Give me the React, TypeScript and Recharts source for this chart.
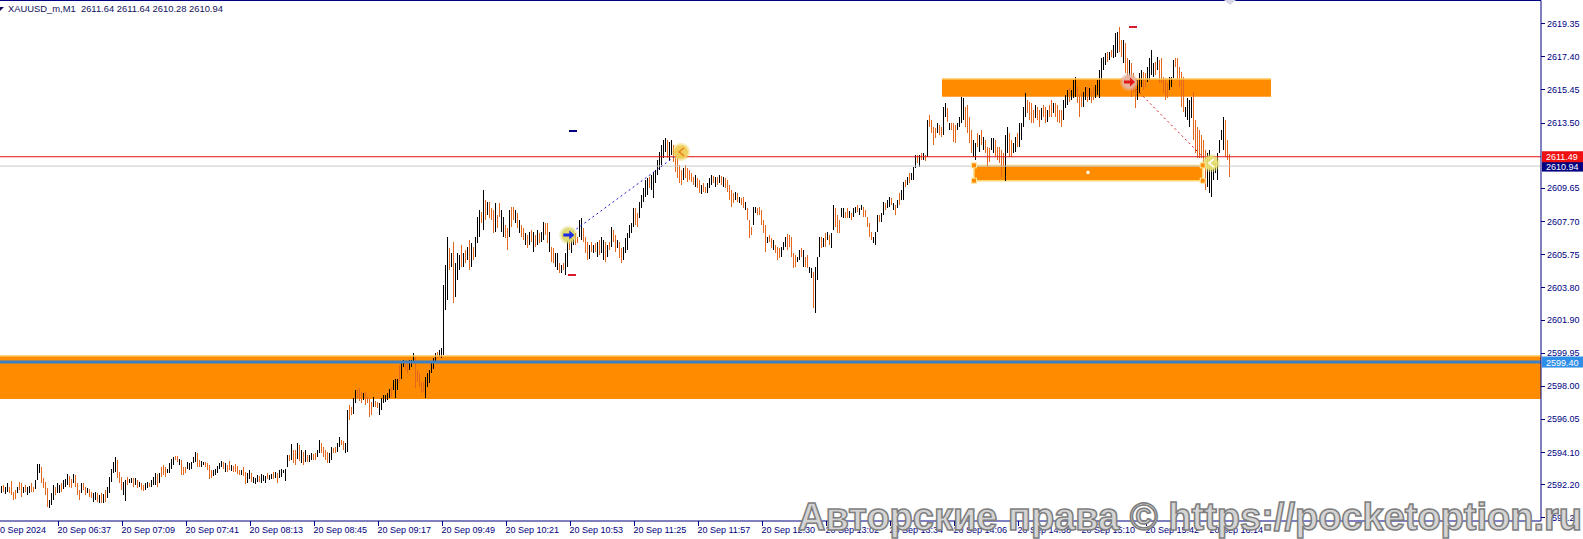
import React from 'react';
import { ComposedChart, Bar, XAxis, YAxis, ReferenceLine, ReferenceArea, ReferenceDot } from 'recharts';

// ---- bar data (XAUUSD_m, M1), one entry per minute bar ----
const highs = [
2592.09,2592.15,2592.05,2592.25,2592.05,2592.39,2591.76,2591.86,2592.05,2592.35,
2592.25,2592.05,2592.15,2592.05,2592.09,2592.29,2592.05,2592.45,2593.39,2593.39,
2593.23,2592.55,2592.35,2591.96,2591.27,2591.66,2592.15,2592.05,2592.25,2592.15,
2592.29,2592.45,2592.49,2592.78,2592.68,2592.49,2592.78,2592.74,2592.25,2591.86,
2592.25,2592.25,2592.05,2591.96,2591.90,2591.76,2591.70,2591.76,2591.66,2591.56,
2591.66,2591.62,2591.86,2592.05,2592.64,2593.13,2593.53,2593.82,2593.62,2592.94,
2592.64,2592.35,2592.45,2592.64,2592.51,2592.60,2592.55,2592.55,2592.45,2592.35,
2592.25,2592.15,2592.25,2592.35,2592.29,2592.45,2592.64,2592.84,2592.78,2592.84,
2593.23,2593.33,2593.23,2593.13,2593.43,2593.72,2593.82,2593.88,2593.86,2593.72,
2593.62,2593.23,2593.23,2593.53,2593.43,2593.53,2593.82,2594.11,2594.05,2593.62,
2593.58,2593.53,2593.53,2593.43,2593.33,2593.04,2593.04,2593.13,2593.27,2593.43,
2593.58,2593.53,2593.43,2593.33,2593.58,2593.33,2593.27,2593.39,2593.27,2593.04,
2593.04,2593.23,2592.94,2592.84,2593.07,2592.84,2592.64,2592.55,2592.74,2592.68,
2592.78,2592.74,2592.68,2592.84,2592.74,2592.80,2592.94,2592.94,2592.84,2593.04,
2593.13,2593.07,2593.13,2593.92,2593.92,2594.60,2594.25,2594.21,2594.64,2594.51,
2594.21,2594.12,2594.21,2593.92,2593.92,2594.02,2593.98,2594.06,2594.21,2594.80,
2594.61,2594.41,2594.21,2594.12,2594.02,2594.41,2594.31,2594.41,2594.61,2595.00,
2594.80,2594.76,2594.61,2596.57,2596.86,2596.77,2597.26,2597.75,2597.79,2597.85,
2597.65,2597.55,2597.65,2597.35,2597.26,2597.06,2597.35,2597.12,2597.06,2596.96,
2597.26,2597.45,2597.45,2597.55,2597.79,2597.94,2598.34,2598.43,2598.43,2599.22,
2599.42,2599.51,2599.47,2599.42,2599.51,2599.51,2599.91,2599.71,2598.92,2598.73,
2598.24,2598.24,2598.53,2598.73,2598.92,2599.32,2599.61,2599.91,2600.00,2600.10,
2600.20,2603.93,2605.11,2606.76,2606.10,2605.80,2606.49,2605.21,2605.80,2605.70,
2606.29,2605.80,2606.00,2606.19,2606.59,2606.39,2606.19,2606.78,2607.96,2608.35,
2608.26,2609.53,2608.94,2608.85,2608.85,2608.45,2608.35,2608.75,2608.06,2608.75,
2608.35,2607.96,2607.47,2607.28,2608.35,2608.55,2608.55,2608.35,2608.16,2607.77,
2607.47,2607.28,2606.98,2606.88,2607.08,2607.18,2607.08,2606.88,2607.18,2606.98,
2607.08,2607.67,2607.57,2607.57,2607.08,2606.19,2606.10,2605.80,2605.80,2605.21,
2605.12,2605.21,2605.80,2606.59,2606.49,2606.78,2606.88,2606.98,2606.78,2607.77,
2607.86,2607.28,2606.78,2606.49,2606.29,2606.49,2606.29,2606.39,2606.49,2606.59,
2606.78,2606.59,2606.49,2606.29,2606.49,2607.37,2607.18,2606.88,2606.59,2606.49,
2606.10,2606.19,2606.69,2606.98,2607.47,2607.57,2608.45,2608.45,2608.16,2608.85,
2609.24,2609.63,2610.12,2610.22,2610.32,2610.42,2610.61,2610.71,2611.30,2611.77,
2612.18,2612.47,2612.59,2612.47,2612.36,2612.47,2612.18,2611.89,2611.41,2611.00,
2610.71,2610.83,2611.00,2610.83,2610.71,2610.51,2610.32,2610.42,2610.22,2610.12,
2609.83,2609.92,2609.73,2609.92,2610.22,2610.42,2610.36,2610.32,2610.32,2610.42,
2610.36,2610.32,2610.22,2610.12,2609.83,2609.53,2609.34,2609.43,2609.34,2609.14,
2609.04,2609.14,2608.85,2608.45,2607.77,2607.37,2608.55,2608.55,2608.45,2608.55,
2608.35,2607.77,2607.47,2606.78,2606.88,2606.69,2606.59,2606.29,2606.19,2606.10,
2606.19,2606.49,2606.78,2606.94,2606.88,2606.78,2605.80,2605.70,2605.61,2606.00,
2606.10,2606.00,2605.61,2605.70,2605.02,2604.92,2604.72,2605.02,2605.61,2606.78,
2606.78,2606.68,2606.98,2607.08,2606.88,2606.98,2608.65,2608.45,2608.06,2607.77,
2608.45,2608.45,2608.25,2608.45,2608.31,2608.20,2608.45,2608.55,2608.65,2608.45,
2608.65,2608.55,2608.35,2607.96,2607.57,2607.08,2606.78,2607.08,2608.06,2608.06,
2608.16,2608.84,2608.75,2608.94,2609.14,2609.04,2608.75,2608.65,2608.94,2609.33,
2609.53,2610.02,2610.12,2610.32,2610.51,2610.51,2610.90,2611.59,2611.59,2611.59,
2611.69,2611.69,2611.59,2613.65,2613.95,2613.65,2613.26,2613.16,2613.46,2613.36,
2613.26,2614.44,2614.63,2614.34,2613.46,2613.46,2613.46,2613.36,2613.46,2613.85,
2615.03,2614.93,2614.44,2614.53,2613.85,2613.06,2612.47,2612.28,2612.87,2612.77,
2613.06,2612.67,2612.47,2612.08,2611.98,2612.57,2612.57,2612.47,2612.08,2612.08,
2611.88,2611.69,2612.77,2613.26,2612.87,2612.47,2612.28,2612.67,2612.87,2613.45,
2613.45,2614.44,2615.26,2614.83,2614.73,2614.63,2614.24,2614.53,2614.44,2614.24,
2614.34,2614.53,2614.44,2614.24,2614.53,2614.83,2614.63,2614.63,2614.53,2614.24,
2614.24,2614.83,2615.12,2615.42,2615.52,2615.42,2616.01,2616.20,2615.61,2615.12,
2615.22,2615.32,2615.61,2615.61,2615.52,2615.42,2615.61,2615.71,2616.01,2616.60,
2617.28,2617.38,2617.58,2617.67,2617.67,2617.77,2618.07,2618.75,2618.85,2619.15,
2618.36,2618.36,2618.17,2617.28,2617.18,2616.99,2616.40,2615.71,2616.01,2616.40,
2616.60,2616.50,2616.40,2616.79,2617.28,2617.77,2616.99,2617.09,2617.38,2617.18,
2617.28,2616.20,2616.10,2615.81,2616.20,2616.20,2617.18,2617.28,2617.28,2616.79,
2616.50,2616.20,2614.44,2614.93,2614.83,2615.03,2615.32,2613.65,2613.26,2613.06,
2612.77,2612.47,2611.88,2611.69,2611.88,2611.30,2611.30,2611.10,2611.69,2612.47,
2613.06,2613.85,2613.65,2612.47,2611.64
];

const lows = [
2591.66,2591.76,2591.62,2591.76,2591.66,2591.56,2591.27,2591.31,2591.66,2591.86,
2591.47,2591.66,2591.76,2591.56,2591.66,2591.76,2591.76,2591.90,2592.45,2592.84,
2592.25,2591.96,2591.56,2590.88,2590.78,2590.98,2591.27,2591.56,2591.66,2591.70,
2591.76,2591.90,2592.05,2592.15,2592.05,2591.96,2592.25,2592.05,2591.56,2591.27,
2591.66,2591.86,2591.56,2591.66,2591.47,2591.37,2591.17,2591.27,2591.17,2591.11,
2591.11,2591.11,2591.17,2591.37,2591.66,2592.35,2592.84,2592.94,2592.55,2592.25,
2591.86,2591.56,2591.23,2592.15,2592.25,2592.25,2592.05,2592.15,2591.96,2592.05,
2591.86,2591.82,2591.86,2591.96,2592.05,2592.05,2592.15,2592.15,2592.05,2592.29,
2592.64,2592.74,2592.64,2592.84,2592.84,2593.13,2593.33,2593.62,2593.53,2593.33,
2592.74,2592.74,2592.84,2593.13,2593.04,2593.13,2593.43,2593.53,2593.23,2593.23,
2593.23,2593.33,2593.23,2593.04,2592.49,2592.55,2592.68,2592.74,2592.88,2593.13,
2593.23,2593.13,2592.94,2592.94,2593.07,2593.00,2592.94,2592.94,2592.78,2592.74,
2592.74,2592.68,2592.21,2592.29,2592.49,2592.35,2592.25,2592.21,2592.35,2592.35,
2592.29,2592.41,2592.25,2592.49,2592.45,2592.49,2592.49,2592.55,2592.29,2592.55,
2592.64,2592.84,2592.39,2593.23,2593.58,2593.62,2593.43,2593.33,2593.72,2593.58,
2593.43,2593.33,2593.53,2593.53,2593.53,2593.62,2593.62,2593.66,2593.82,2594.02,
2594.02,2593.82,2593.62,2593.43,2593.43,2593.62,2594.02,2594.06,2594.12,2594.41,
2594.51,2594.21,2594.06,2594.12,2595.98,2596.27,2596.37,2596.96,2597.26,2597.12,
2596.96,2597.16,2596.86,2596.96,2596.18,2596.27,2596.77,2596.77,2596.67,2596.27,
2596.57,2597.00,2597.06,2597.16,2597.26,2597.35,2597.75,2597.26,2597.75,2598.14,
2598.43,2599.12,2598.92,2598.73,2598.92,2599.12,2599.32,2597.85,2598.24,2597.94,
2597.55,2597.65,2597.26,2597.94,2598.14,2598.73,2599.02,2599.32,2599.61,2599.71,
2599.61,2599.81,2602.46,2603.05,2604.82,2605.02,2602.86,2603.25,2604.23,2604.82,
2605.02,2605.02,2605.21,2605.41,2604.82,2605.02,2605.41,2605.61,2606.39,2606.78,
2607.57,2607.18,2607.77,2608.06,2607.86,2607.77,2606.98,2607.08,2607.28,2607.96,
2607.08,2606.78,2606.69,2606.00,2606.78,2607.37,2607.77,2607.57,2607.28,2606.98,
2606.78,2606.59,2606.29,2606.10,2606.29,2606.49,2605.90,2606.19,2606.29,2606.39,
2606.49,2606.59,2606.88,2606.39,2605.90,2605.31,2605.21,2605.02,2604.82,2604.62,
2604.62,2604.82,2604.53,2605.02,2606.00,2605.80,2606.29,2606.29,2606.39,2606.78,
2606.59,2606.49,2605.80,2605.41,2605.45,2605.90,2605.80,2605.90,2605.61,2605.70,
2605.80,2605.41,2605.31,2605.61,2606.00,2606.19,2606.49,2605.90,2606.10,2605.51,
2605.21,2605.41,2605.80,2606.00,2606.69,2606.98,2607.37,2607.47,2607.37,2607.86,
2608.45,2608.85,2609.14,2609.24,2609.63,2609.53,2609.04,2609.92,2610.41,2610.71,
2611.00,2611.41,2611.77,2611.41,2611.30,2611.59,2611.19,2610.59,2610.24,2609.94,
2609.82,2610.12,2610.24,2610.00,2610.12,2610.02,2609.83,2609.73,2609.63,2609.34,
2609.30,2609.43,2609.34,2609.34,2609.63,2609.83,2609.92,2609.73,2609.83,2609.92,
2609.83,2609.73,2609.63,2609.43,2608.94,2608.55,2608.75,2608.94,2608.85,2608.75,
2608.65,2608.45,2608.35,2607.77,2606.69,2606.88,2607.47,2608.16,2608.06,2608.06,
2607.47,2606.98,2605.90,2606.39,2606.49,2606.10,2606.00,2605.80,2605.41,2605.51,
2605.61,2606.00,2606.19,2606.00,2606.19,2605.61,2604.92,2605.02,2605.31,2605.41,
2605.61,2605.02,2605.02,2604.92,2604.62,2604.33,2602.56,2602.27,2604.23,2605.61,
2606.10,2606.19,2606.19,2606.59,2606.29,2606.10,2607.18,2607.37,2606.98,2606.98,
2607.96,2607.86,2607.86,2607.86,2607.86,2607.77,2607.96,2608.16,2608.25,2608.06,
2608.35,2607.96,2607.96,2607.37,2606.78,2606.59,2606.39,2606.29,2607.08,2607.67,
2607.67,2608.06,2608.35,2608.45,2608.55,2608.65,2608.35,2608.06,2608.45,2608.65,
2608.94,2608.94,2609.73,2609.83,2609.92,2610.12,2610.12,2610.81,2611.10,2610.90,
2611.30,2611.30,2611.26,2611.49,2613.26,2612.87,2612.18,2612.57,2612.87,2612.77,
2612.67,2612.77,2613.85,2613.55,2613.06,2613.06,2612.38,2612.28,2613.06,2613.26,
2613.45,2613.65,2613.26,2612.87,2612.28,2611.69,2611.49,2611.30,2612.08,2611.79,
2612.18,2611.88,2611.69,2610.90,2611.20,2611.88,2611.69,2611.49,2611.30,2611.10,
2610.31,2610.90,2610.08,2611.69,2611.49,2611.49,2611.69,2611.79,2612.08,2612.08,
2612.47,2613.26,2613.85,2614.04,2613.65,2613.45,2613.45,2613.75,2613.65,2613.26,
2613.65,2613.85,2613.45,2613.55,2613.85,2613.85,2614.04,2613.85,2613.55,2613.45,
2613.26,2613.65,2614.34,2614.53,2614.73,2614.83,2614.93,2615.03,2614.63,2613.85,
2614.44,2614.44,2614.83,2614.73,2614.83,2614.63,2614.83,2614.93,2615.12,2614.93,
2616.01,2616.60,2616.89,2617.09,2617.18,2617.38,2617.28,2617.38,2617.58,2617.67,
2617.38,2616.99,2616.40,2616.10,2615.91,2615.03,2615.32,2614.34,2614.83,2615.22,
2615.61,2615.42,2615.61,2615.91,2616.01,2616.30,2616.20,2616.30,2616.60,2615.81,
2615.81,2615.22,2614.83,2614.93,2615.42,2615.61,2616.10,2616.79,2616.01,2615.61,
2614.44,2614.14,2613.85,2613.65,2613.26,2613.75,2612.47,2611.69,2611.39,2611.39,
2611.39,2611.10,2609.53,2609.73,2609.33,2609.14,2610.12,2610.51,2610.12,2611.69,
2612.47,2611.88,2611.49,2611.30,2610.28
];

// 1 = bullish bar (black), 0 = bearish bar (orange)
const ups = [
1,0,1,1,0,0,0,0,1,0, 0,1,0,1,1,0,0,1,1,1, 0,0,0,0,1,1,1,0,1,1, 0,1,1,1,0,0,1,0,0,0,
1,0,0,1,0,0,1,1,0,1, 0,1,0,1,1,1,1,1,0,0, 0,1,1,0,1,1,0,1,0,1, 0,0,1,1,0,1,1,1,0,1,
0,0,0,1,1,1,1,0,0,1, 0,0,0,1,1,1,1,1,0,0, 1,1,0,0,0,0,1,1,1,1, 1,0,1,0,0,1,0,0,0,0,
1,0,0,1,1,0,1,1,1,0, 1,1,1,0,1,1,0,1,0,1, 1,1,1,1,0,1,0,0,1,0, 1,0,1,0,1,1,0,0,1,1,
0,0,0,0,1,1,0,0,1,1, 0,0,1,1,0,0,1,1,0,0, 0,1,0,0,0,0,1,0,0,1, 1,1,1,1,1,0,1,1,1,0,
1,1,0,0,1,1,1,0,0,0, 0,0,1,1,1,1,1,1,0,1, 1,1,1,1,0,1,0,1,1,1, 0,1,0,1,0,1,0,1,1,1,
0,1,0,1,0,0,0,1,0,0, 1,1,0,0,1,0,0,1,0,1, 0,0,1,0,1,0,1,0,1,0, 1,1,0,0,1,0,0,1,1,0,
1,0,1,1,0,1,1,0,0,1, 1,0,0,0,1,0,1,0,1,0, 1,1,0,1,0,1,0,0,1,0, 0,1,1,1,1,1,1,0,0,1,
1,1,1,1,0,1,1,1,1,1, 1,1,1,0,1,1,0,0,0,0, 0,1,0,0,0,0,0,1,0,0, 1,0,0,1,1,1,0,1,0,1,
0,1,0,0,0,0,0,1,0,1, 0,0,1,0,0,0,1,1,0,0, 0,0,0,1,0,0,1,0,0,0, 1,1,1,0,0,0,0,0,1,1,
0,1,0,0,1,1,0,1,1,1, 0,1,0,1,0,1,1,0,0,0, 1,1,0,0,1,0,1,1,0,1, 1,0,0,0,0,0,1,1,1,0,
1,1,0,1,1,0,1,0,1,0, 1,1,0,1,0,1,1,1,0,1, 0,1,0,1,0,0,0,0,1,0, 0,1,1,0,1,0,0,0,1,1,
1,1,0,0,0,0,1,1,0,1, 0,1,0,0,0,1,1,0,0,0, 0,0,1,1,0,0,1,1,0,1, 1,1,1,0,0,0,0,1,0,0,
1,0,0,1,0,0,1,0,0,0, 0,1,1,1,0,1,1,1,0,0, 0,1,1,0,1,0,0,1,1,1, 1,1,1,0,1,0,1,1,1,0,
0,1,0,0,1,0,0,0,1,1, 1,0,0,1,1,1,1,0,1,0, 0,0,0,0,1,1,1,0,0,0, 0,0,1,1,1,1,0,0,0,0,
0,0,0,1,1,1,1,1,1,1, 1,1,0,0,0
];

// time axis: bar index of each label and its text
const timeTickBars = [-0.75, 29, 61, 93, 125, 157, 189, 221, 253, 285, 317, 349, 381, 413, 445, 477, 509, 541, 573, 605];
const timeLabels = ['20 Sep 2024', '20 Sep 06:37', '20 Sep 07:09', '20 Sep 07:41', '20 Sep 08:13', '20 Sep 08:45',
  '20 Sep 09:17', '20 Sep 09:49', '20 Sep 10:21', '20 Sep 10:53', '20 Sep 11:25', '20 Sep 11:57', '20 Sep 12:30',
  '20 Sep 13:02', '20 Sep 13:34', '20 Sep 14:06', '20 Sep 14:38', '20 Sep 15:10', '20 Sep 15:42', '20 Sep 16:14'];

// price axis
const priceTicks = [2619.35, 2617.40, 2615.45, 2613.50, 2609.65, 2607.70, 2605.75, 2603.80, 2601.90,
  2599.95, 2598.00, 2596.05, 2594.10, 2592.20, 2590.25];
const priceDomain = [2590.04, 2620.69];
const askPrice = 2611.49;
const bidPrice = 2610.94;
const levelPrice = 2599.40;

// zones [barFrom, barTo, priceLow, priceHigh]
const bigZone = [-0.75, 769.75, 2597.22, 2599.75];
const upperZone = [470.25, 634.75, 2615.02, 2616.07];
const lowerZone = [486.25, 600.6, 2610.08, 2610.98];
const lowerZoneCenter = [543.25, 2610.57];

// drawn trend segments [bar, price, bar, price]
const blueTrend = [283.4, 2606.88, 339.75, 2611.77];
const redTrend = [563.75, 2615.89, 600.75, 2611.47];
const endMarker = [604.75, 2611.12];

// marks [bar, price]
const navyDash = [285.5, 2612.99];
const redDashLow = [285.25, 2604.52];
const redDashTop = [565.5, 2619.15];
const shiftMarker = [614.25, 2620.69];

const title = 'XAUUSD_m,M1  2611.64 2611.64 2610.28 2610.94';
const watermark = 'Авторские права © https://pocketoption.ru';

const NAVY = '#000080';
const UP = '#000000';
const DOWN = '#E3681E';
const ORANGE = '#FF8C00';
const FONT = 'Liberation Sans, Arial, sans-serif';
const W = 1583;
const H = 539;
const AXIS_X = 1541;
const AXIS_Y = 521;

const data = highs.map((h, i) => ({ i, range: [lows[i], h], up: ups[i] }));

const BarShape = (props: any) => {
  const { x, y, width, height, payload } = props;
  if (x == null || y == null) return null;
  const cx = x + (width || 0) / 2;
  const px = Math.round(cx - 0.5 + 0.001);
  const top = height >= 0 ? y : y + height;
  const h = Math.max(Math.abs(height), 1);
  return <rect x={px} y={top} width={1} height={h} fill={payload.up ? UP : DOWN} shapeRendering="crispEdges" />;
};

const XTick = (props: any) => {
  const { x, payload } = props;
  const k = timeTickBars.indexOf(payload.value);
  const label = k >= 0 ? timeLabels[k] : '';
  const tx = Math.floor(x) - 0.5;
  return (
    <g>
      {k > 0 && <line x1={tx} x2={tx} y1={AXIS_Y} y2={AXIS_Y + 5} stroke={NAVY} strokeWidth={1} />}
      <text x={k === 0 ? -5 : x - 2} y={AXIS_Y + 12} fontSize={9} fontFamily={FONT} fill={NAVY}>{label}</text>
    </g>
  );
};

const YTick = (props: any) => {
  const { y, payload } = props;
  const v = payload.value;
  const txt = v.toFixed(2);
  if (v === askPrice || v === bidPrice || v === levelPrice) {
    const bg = v === askPrice ? '#F01010' : v === bidPrice ? '#000080' : '#2F8FE8';
    return (
      <g>
        <rect x={AXIS_X + 1} y={y - 5.5} width={W - AXIS_X - 1} height={11} fill={bg} />
        <text x={AXIS_X + 5} y={y + 3.5} fontSize={9} fontFamily={FONT} fill="#FFFFFF">{txt}</text>
      </g>
    );
  }
  return (
    <g>
      <line x1={AXIS_X} x2={AXIS_X + 4} y1={Math.round(y) + 0.5} y2={Math.round(y) + 0.5} stroke={NAVY} />
      <text x={AXIS_X + 6} y={y + 3.5} fontSize={9} fontFamily={FONT} fill={NAVY}>{txt}</text>
    </g>
  );
};

const circleShape = (fill: string, inner: string, kind: string) => (p: any) => {
  const { cx, cy } = p;
  return (
    <g>
      <circle cx={cx} cy={cy} r={9} fill={fill} opacity={0.45} />
      <circle cx={cx} cy={cy} r={7} fill={fill} opacity={0.9} />
      {kind === 'arrow' && (
        <polygon
          points={`${cx - 5},${cy - 1.5} ${cx + 1},${cy - 1.5} ${cx + 1},${cy - 4.5} ${cx + 6},${cy} ${cx + 1},${cy + 4.5} ${cx + 1},${cy + 1.5} ${cx - 5},${cy + 1.5}`}
          fill={inner}
        />
      )}
      {kind === 'check' && (
        <polyline points={`${cx + 3},${cy - 4} ${cx - 2},${cy} ${cx + 3},${cy + 4}`} fill="none" stroke={inner} strokeWidth={1.6} />
      )}
    </g>
  );
};

const dashShape = (color: string) => (p: any) => (
  <rect x={Math.round(p.cx - 4)} y={Math.round(p.cy - 1)} width={8} height={2} fill={color} />
);

const handleShape = (p: any) => (
  <rect x={p.cx - 2.5} y={p.cy - 2.5} width={5} height={5} fill={ORANGE} stroke="#FFE6A0" strokeWidth={1} />
);

const centerShape = (p: any) => <rect x={p.cx - 1.5} y={p.cy - 1.5} width={3} height={3} fill="#FFFFFF" />;

const triShape = (p: any) => (
  <polygon points={`${p.cx - 6},0 ${p.cx + 6},0 ${p.cx},5`} fill="#D6D6E4" />
);

export default function App() {
  return (
    <div style={{ position: 'absolute', left: 0, top: 0, width: W, height: H, background: '#FFFFFF', overflow: 'hidden' }}>
      <ComposedChart width={W} height={H} data={data} margin={{ top: 0.5, right: 0, bottom: 0, left: 0 }}>
        <XAxis
          dataKey="i"
          type="number"
          domain={[-0.75, 769.75]}
          ticks={timeTickBars}
          interval={0}
          height={18}
          axisLine={{ stroke: NAVY }}
          tickLine={false}
          tick={<XTick />}
        />
        <YAxis
          type="number"
          orientation="right"
          domain={priceDomain}
          ticks={[...priceTicks, levelPrice, bidPrice, askPrice]}
          interval={0}
          width={42}
          axisLine={{ stroke: NAVY }}
          tickLine={false}
          tick={<YTick />}
        />
        <ReferenceArea x1={bigZone[0]} x2={bigZone[1]} y1={bigZone[2]} y2={bigZone[3]} fill={ORANGE} fillOpacity={1} stroke="none" />
        <ReferenceArea x1={upperZone[0]} x2={upperZone[1]} y1={upperZone[2]} y2={upperZone[3]} fill={ORANGE} fillOpacity={1} stroke="none" />
        <ReferenceArea x1={lowerZone[0]} x2={lowerZone[1]} y1={lowerZone[2]} y2={lowerZone[3]} fill={ORANGE} fillOpacity={1} stroke="#FFD877" strokeWidth={1.5} />
        <ReferenceLine segment={[{ x: bigZone[0], y: bigZone[3] }, { x: bigZone[1], y: bigZone[3] }]} stroke="#FFC457" strokeWidth={1.5} />
        <ReferenceLine segment={[{ x: upperZone[0], y: upperZone[3] }, { x: upperZone[1], y: upperZone[3] }]} stroke="#FFC457" strokeWidth={1.5} />
        <ReferenceLine y={priceDomain[1]} stroke={NAVY} strokeWidth={1} />
        <ReferenceLine y={bidPrice} stroke="#C8C8C8" strokeWidth={1} />
        <ReferenceLine y={askPrice} stroke="#E01010" strokeWidth={1} />
        <ReferenceLine y={levelPrice} stroke="#3C80C6" strokeWidth={3} />
        <Bar dataKey="range" barSize={1} isAnimationActive={false} shape={<BarShape />} />
        <ReferenceLine segment={[{ x: blueTrend[0], y: blueTrend[1] }, { x: blueTrend[2], y: blueTrend[3] }]} stroke="#1414C8" strokeWidth={1} strokeDasharray="2 3" />
        <ReferenceLine segment={[{ x: redTrend[0], y: redTrend[1] }, { x: redTrend[2], y: redTrend[3] }]} stroke="#D01818" strokeWidth={1} strokeDasharray="2 3" />
        <ReferenceDot x={blueTrend[0]} y={blueTrend[1]} r={8} shape={circleShape('#DCD66A', '#1A2AE0', 'arrow')} />
        <ReferenceDot x={blueTrend[2]} y={blueTrend[3]} r={8} shape={circleShape('#F0CC55', '#E8861E', 'check')} />
        <ReferenceDot x={redTrend[0]} y={redTrend[1]} r={8} shape={circleShape('#E6B2A2', '#E01818', 'arrow')} />
        <ReferenceDot x={endMarker[0]} y={endMarker[1]} r={8} shape={circleShape('#E8E070', '#FFFFFF', 'check')} />
        <ReferenceDot x={navyDash[0]} y={navyDash[1]} r={2} shape={dashShape(NAVY)} />
        <ReferenceDot x={redDashLow[0]} y={redDashLow[1]} r={2} shape={dashShape('#D81A2A')} />
        <ReferenceDot x={redDashTop[0]} y={redDashTop[1]} r={2} shape={dashShape('#D81A2A')} />
        <ReferenceDot x={lowerZone[0]} y={lowerZone[3]} r={2} shape={handleShape} />
        <ReferenceDot x={lowerZone[0]} y={lowerZone[2]} r={2} shape={handleShape} />
        <ReferenceDot x={lowerZone[1]} y={lowerZone[3]} r={2} shape={handleShape} />
        <ReferenceDot x={lowerZone[1]} y={lowerZone[2]} r={2} shape={handleShape} />
        <ReferenceDot x={lowerZoneCenter[0]} y={lowerZoneCenter[1]} r={2} shape={centerShape} />
        <ReferenceDot x={shiftMarker[0]} y={shiftMarker[1]} r={2} shape={triShape} />
      </ComposedChart>
      <svg width={W} height={H} style={{ position: 'absolute', left: 0, top: 0, pointerEvents: 'none' }}>
        <polygon points="0,7 4,7 0,11" fill="#10105A" />
        <text x={8} y={12} fontSize={9.4} fontFamily={FONT} fill="#10105A" style={{ whiteSpace: 'pre' }}>{title}</text>
        <text
          x={798}
          y={530}
          fontSize={38}
          fontWeight="bold"
          fontFamily={FONT}
          textLength={784}
          lengthAdjust="spacingAndGlyphs"
          fill="#D4D4D4"
          stroke="#7E7E7E"
          strokeWidth={1.5}
        >
          {watermark}
        </text>
      </svg>
    </div>
  );
}
